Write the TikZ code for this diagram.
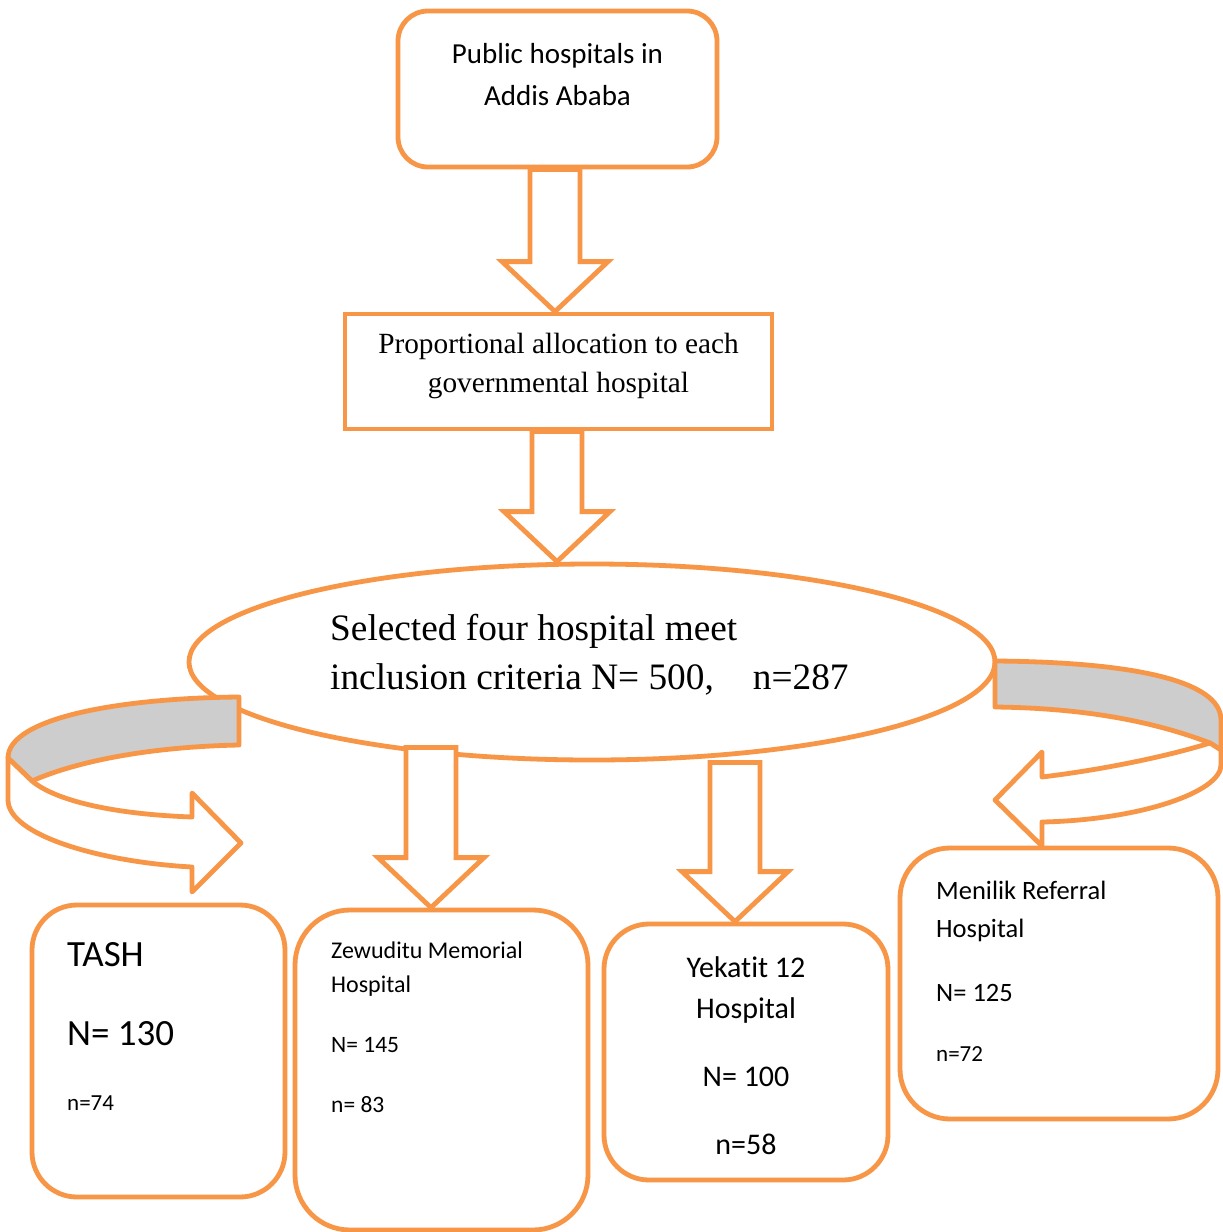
\documentclass[tikz,border=0pt]{standalone}
\usepackage{fontspec}
\setmainfont{Carlito}[Ligatures={NoCommon}]
\newfontfamily\tnr{Liberation Serif}
\usetikzlibrary{shapes.geometric,calc}
\definecolor{org}{HTML}{F79646}
\definecolor{band}{HTML}{CDCDCD}
\newcommand\fs[1]{\fontsize{#1}{#1}\selectfont}
\newcommand\barrow[2]{\draw[blk] let \p1=#1, \p2=#2 in
  (\x2-25pt,\y1) -- (\x2-25pt,\y2+50pt) -- (\x2-53pt,\y2+50pt) -- (\x2,\y2)
  -- (\x2+53pt,\y2+50pt) -- (\x2+25pt,\y2+50pt) -- (\x2+25pt,\y1) -- cycle;}
\begin{document}
\begin{tikzpicture}[x=1pt,y=-1pt,
  box/.style={draw=org,line width=4.8pt,fill=white,inner sep=0pt},
  blk/.style={draw=org,line width=4.8pt,fill=white,line join=miter},
  rib/.style={draw=org,line width=4.8pt,line join=round},
  txt/.style={inner sep=0pt,text=black}]
\useasboundingbox[fill=white] (0,0) rectangle (1223,1232);
% boxes
\node[box,rounded corners=30pt,minimum width=319pt,minimum height=156pt] (b1) at (557.5,89) {};
\node[box,minimum width=427pt,minimum height=115pt] (b2) at (558.5,371.5) {};
\node[box,ellipse,minimum width=806pt,minimum height=196pt] (ell) at (592,662) {};
% arrows top
\barrow{(b1.south)}{($(b2.north)+(-3.5,0)$)}
\barrow{(b2.south)}{($(ell.north)+(-35,0)$)}
% hospital boxes
\node[box,rounded corners=45pt,minimum width=253pt,minimum height=292pt] (tash) at (158.5,1051) {};
\node[box,rounded corners=55pt,minimum width=293pt,minimum height=320pt] (zew) at (441.5,1070) {};
\node[box,rounded corners=45pt,minimum width=284pt,minimum height=256pt] (yek) at (746,1052) {};
\node[box,rounded corners=50pt,minimum width=318pt,minimum height=271pt] (men) at (1059,983.5) {};
% arrows from ellipse
\barrow{($(ell.south)+(0,-15)$)}{($(zew.north)+(-10.5,0)$)}
\barrow{(ell.south)}{($(yek.north)+(-11,0)$)}
% left curved ribbon
\draw[rib,fill=band] (239,697) .. controls (120,698) and (8,718) .. (8,758)
  -- (32,781) .. controls (70,764) and (140,747) .. (239,745) -- cycle;
\draw[rib,fill=white] (8,758) -- (8,800) .. controls (8,835) and (100,862) .. (192,867)
  -- (192,892) -- (241,843) -- (192,793) -- (192,817)
  .. controls (110,814) and (55,800) .. (32,781) -- cycle;
% right curved ribbon
\draw[rib,fill=band] (995,661) .. controls (1130,662) and (1221,680) .. (1221,720)
  -- (1221,750) -- (1210,743) .. controls (1150,720) and (1080,708) .. (995,707) -- cycle;
\draw[rib,fill=white] (1221,750) -- (1221,765) .. controls (1221,792) and (1140,820) .. (1042,822)
  -- (1042,846) -- (995,800) -- (1042,752) -- (1042,777)
  .. controls (1100,770) and (1165,757) .. (1210,743) -- cycle;
% texts
\node[txt,anchor=base] (t1a) at (557.5,63) {\fs{29}Public hospitals in};
\node[txt,anchor=base] (t1b) at (557.5,105) {\fs{29}Addis Ababa};
\node[txt,anchor=base] (t2a) at (558.5,353) {\tnr\fs{29.3}Proportional allocation to each};
\node[txt,anchor=base] (t2b) at (558.5,392) {\tnr\fs{29.3}governmental hospital};
\node[txt,anchor=base west] (t3a) at (330,640) {\tnr\fs{37.3}Selected four hospital meet};
\node[txt,anchor=base west] (t3b) at (330,689) {\tnr\fs{37.3}inclusion criteria N= 500,\hspace{1.05em}n=287};
\node[txt,anchor=base west] (ta) at (67,966) {\fs{37}TASH};
\node[txt,anchor=base west] (tb) at (67,1045) {\fs{37}N= 130};
\node[txt,anchor=base west] (tc) at (67,1110) {\fs{23}n=74};
\node[txt,anchor=base west] (za) at (331,958) {\fs{24}Zewuditu Memorial};
\node[txt,anchor=base west] (zb) at (331,992) {\fs{24}Hospital};
\node[txt,anchor=base west] (zc) at (331,1052) {\fs{23.5}N= 145};
\node[txt,anchor=base west] (zd) at (331,1112) {\fs{23.5}n= 83};
\node[txt,anchor=base] (ya) at (746,977) {\fs{30}Yekatit 12};
\node[txt,anchor=base] (yb) at (746,1018) {\fs{30}Hospital};
\node[txt,anchor=base] (yc) at (746,1086) {\fs{30}N= 100};
\node[txt,anchor=base] (yd) at (746,1154) {\fs{30}n=58};
\node[txt,anchor=base west] (ma) at (936,899) {\fs{26.5}Menilik Referral};
\node[txt,anchor=base west] (mb) at (936,937) {\fs{26.5}Hospital};
\node[txt,anchor=base west] (mc) at (936,1001) {\fs{26.5}N= 125};
\node[txt,anchor=base west] (md) at (936,1061) {\fs{23}n=72};
\end{tikzpicture}
\end{document}
